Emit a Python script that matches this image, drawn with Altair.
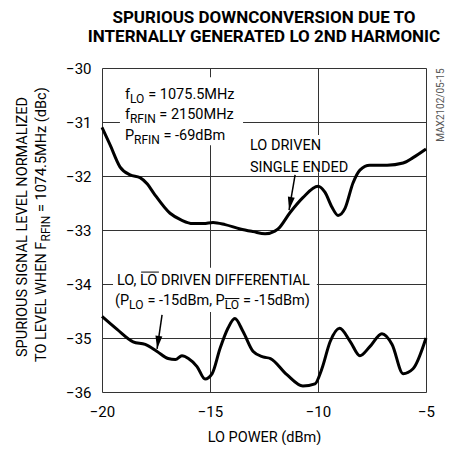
import altair as alt
import pandas as pd

FONT = "Roboto"

# ---------------- data ----------------
x_single = [-20, -19.63, -19.17, -18.7, -18.24, -17.9, -17.6, -16.85, -16.3, -15.8, -15.3,
            -14.86, -14.3, -13.6, -13.0, -12.45, -12.0, -11.85, -11.3, -10.7, -10.0, -9.68,
            -9.35, -9.07, -8.75, -8.38, -8.06, -7.6, -6.8, -6.06, -5.6, -5.0]
y_single = [-31.1, -31.42, -31.83, -31.98, -32.03, -32.15, -32.32, -32.69, -32.82, -32.88, -32.88,
            -32.86, -32.9, -32.98, -33.03, -33.07, -33.02, -32.98, -32.68, -32.4, -32.19, -32.3,
            -32.58, -32.73, -32.6, -32.13, -31.89, -31.8, -31.8, -31.76, -31.66, -31.5]

x_diff = [-20, -19.3, -18.56, -18.0, -17.45, -16.94, -16.6, -16.3, -16.0, -15.6, -15.23,
          -14.9, -14.54, -14.17, -13.85, -13.47, -13.0, -12.55, -12.2, -11.44, -10.7, -10.14,
          -9.82, -9.44, -9.0, -8.5, -8.06, -7.6, -7.04, -6.57, -6.06, -5.6, -5.0]
y_diff = [-34.6, -34.84, -35.07, -35.12, -35.25, -35.38, -35.4, -35.33, -35.38, -35.53, -35.76,
          -35.66, -35.2, -34.82, -34.64, -34.88, -35.25, -35.35, -35.38, -35.68, -35.89, -35.85,
          -35.57, -35.07, -34.82, -35.07, -35.33, -35.16, -34.92, -35.12, -35.66, -35.57, -35.0]

x_ticks = [-20, -15, -10, -5]
y_ticks = [-36, -35, -34, -33, -32, -31, -30]

title_lines = ["SPURIOUS DOWNCONVERSION DUE TO", "INTERNALLY GENERATED LO 2ND HARMONIC"]
x_title = "LO POWER (dBm)"

# ---------------- layout helpers ----------------
W, H = 324, 324
PXX = W / 15.0
PXY = H / 6.0

# approximate Roboto advance widths (per 1000 em)
AW = {' ': 248, '(': 342, ')': 348, ',': 196, '-': 276, '.': 263, '/': 412, '=': 549,
      'A': 652, 'B': 622, 'C': 651, 'D': 656, 'E': 568, 'F': 553, 'G': 681, 'H': 713, 'I': 272,
      'K': 627, 'L': 538, 'M': 873, 'N': 713, 'O': 688, 'P': 631, 'R': 616, 'S': 593, 'T': 597,
      'U': 648, 'V': 636, 'W': 887, 'Z': 599, 'a': 544, 'b': 561, 'c': 523, 'd': 564, 'e': 530,
      'f': 347, 'h': 551, 'i': 243, 'm': 876, 'n': 552, 'o': 570, 'r': 338, 's': 516, 't': 327,
      'u': 551, 'z': 495, 'l': 243, 'g': 561}


def tw(s, size):
    return sum(AW.get(c, 561) for c in s) / 1000.0 * size


xs = alt.Scale(domain=[-20, -5], nice=False, zero=False)
ys = alt.Scale(domain=[-36, -30], nice=False, zero=False)
xaxis = alt.Axis(values=x_ticks, title=x_title, grid=True, ticks=False, domain=False,
                 labelFont=FONT, labelFontSize=15, labelPadding=12, labelColor="black",
                 titleFont=FONT, titleFontSize=14.5, titleFontWeight="normal", titleColor="black",
                 titlePadding=11, gridColor="#333", gridWidth=1, labelFlush=False)
yaxis = alt.Axis(values=y_ticks, title="", grid=True, ticks=False, domain=False,
                 labelFont=FONT, labelFontSize=15, labelPadding=11, labelColor="black",
                 gridColor="#333", gridWidth=1, labelFlush=False)


def X(f):
    return alt.X(f, type="quantitative", scale=xs, axis=xaxis)


def Y(f):
    return alt.Y(f, type="quantitative", scale=ys, axis=yaxis)


def split_lead(text, sz):
    # SVG collapses leading/trailing spaces: move them into the offset instead
    lead = len(text) - len(text.lstrip(" "))
    return text.strip(" "), tw(" " * lead, sz)


def rich_data(x, y, parts):
    layers = []
    off = 0.0
    for text, sz, dy in parts:
        core, lead = split_lead(text, sz)
        d = pd.DataFrame({"x": [x], "y": [y], "t": [core]})
        layers.append(alt.Chart(d).mark_text(align="left", baseline="alphabetic", font=FONT,
                                             fontSize=sz, dx=off + lead, dy=dy, color="black")
                      .encode(x=X("x"), y=Y("y"), text="t:N"))
        off += tw(text, sz)
    return layers


def rich_px(px, py, parts, angle=270, color="black"):
    layers = []
    off = 0.0
    for text, sz, dy in parts:
        core, lead = split_lead(text, sz)
        d = pd.DataFrame({"t": [core]})
        layers.append(alt.Chart(d).mark_text(align="left", baseline="alphabetic", font=FONT,
                                             fontSize=sz, dx=off + lead, dy=dy, angle=angle, color=color)
                      .encode(x=alt.value(px), y=alt.value(py), text="t:N"))
        off += tw(text, sz)
    return layers


S, SS, SD = 14.5, 12, 4

# white masks that interrupt grid lines behind text
mask = pd.DataFrame({
    "x": [-19.17, -13.24, -19.49],
    "x2": [-13.47, -8.52, -10.05],
    "y": [-30.17, -31.24, -33.70],
    "y2": [-31.43, -31.93, -34.52],
})
masks = alt.Chart(mask).mark_rect(color="white").encode(x=X("x"), x2="x2", y=Y("y"), y2="y2")

df_s = pd.DataFrame({"x": x_single, "y": y_single})
df_d = pd.DataFrame({"x": x_diff, "y": y_diff})
line_s = alt.Chart(df_s).mark_line(color="black", strokeWidth=3, interpolate="monotone").encode(x=X("x"), y=Y("y"))
line_d = alt.Chart(df_d).mark_line(color="black", strokeWidth=3, interpolate="monotone").encode(x=X("x"), y=Y("y"))

# arrows
arrows = pd.DataFrame({"x": [-11.06, -11.34, -17.22, -17.45], "y": [-31.98, -32.63, -34.57, -35.20],
                       "g": ["a", "a", "b", "b"]})
shafts = alt.Chart(arrows).mark_line(color="black", strokeWidth=1.5).encode(x=X("x"), y=Y("y"), detail="g:N")
HEAD = "M0,0L-0.35,-1.3L0.35,-1.3Z"
head_a = alt.Chart(pd.DataFrame({"x": [-11.34], "y": [-32.63]})).mark_point(
    shape=HEAD, filled=True, color="black", opacity=1, size=400, angle=10).encode(x=X("x"), y=Y("y"))
head_b = alt.Chart(pd.DataFrame({"x": [-17.45], "y": [-35.20]})).mark_point(
    shape=HEAD, filled=True, color="black", opacity=1, size=400, angle=8).encode(x=X("x"), y=Y("y"))

# text blocks
bx, by0 = -18.94, -30.574
txt = []
txt += rich_data(bx, by0, [("f", S, 0), ("LO", SS, SD), (" = 1075.5MHz", S, 0)])
txt += rich_data(bx, by0 - 20.5 / PXY, [("f", S, 0), ("RFIN", SS, SD), (" = 2150MHz", S, 0)])
txt += rich_data(bx, by0 - 41 / PXY, [("P", S, 0), ("RFIN", SS, SD), (" = -69dBm", S, 0)])
txt += rich_data(-13.15, -31.52, [("LO DRIVEN", S, 0)])
txt += rich_data(-13.15, -31.93, [("SINGLE ENDED", S, 0)])
l1x, l1y = -19.31, -34.02
l2x, l2y = -19.40, -34.39
txt += rich_data(l1x, l1y, [("LO, LO DRIVEN DIFFERENTIAL", S, 0)])
txt += rich_data(l2x, l2y, [("(P", S, 0), ("LO", SS, SD), (" = -15dBm, P", S, 0), ("LO", SS, SD), (" = -15dBm)", S, 0)])

# overlines on the inverted LO
o1 = tw("LO, ", S)
o2 = tw("(P", S) + tw("LO", SS) + tw(" = -15dBm, P", S)
over = pd.DataFrame({
    "x": [l1x + o1 / PXX, l2x + o2 / PXX],
    "x2": [l1x + (o1 + tw("LO", S)) / PXX, l2x + (o2 + tw("LO", SS)) / PXX],
    "y": [l1y + 13 / PXY, l2y + 6.5 / PXY],
})
overlines = alt.Chart(over).mark_rule(color="black", strokeWidth=1).encode(x=X("x"), x2="x2", y=Y("y"))

# rotated y-axis title
ytitle = []
ytitle += rich_px(-75, 289, [("SPURIOUS SIGNAL LEVEL NORMALIZED", S, 0)])
ytitle += rich_px(-56, 294, [("TO LEVEL WHEN F", S, 0), ("RFIN", SS, SD), (" = 1074.5MHz (dBc)", S, 0)])

code = alt.Chart(pd.DataFrame({"t": ["MAX2102/05-15"]})).mark_text(
    font=FONT, fontSize=10, angle=270, align="center", baseline="middle", color="#555").encode(
    x=alt.value(339), y=alt.value(37), text="t:N")

chart = alt.layer(masks, line_s, line_d, shafts, head_a, head_b, overlines, *txt, *ytitle, code).properties(
    width=W, height=H,
    title=alt.TitleParams(text=title_lines, font=FONT, fontSize=17, fontWeight="bold", anchor="middle",
                          color="black", lineHeight=19, offset=15),
    autosize=alt.AutoSizeParams(type="none"),
    padding={"left": 94, "top": 60, "right": 19, "bottom": 53},
).configure_view(stroke="black", strokeWidth=3).configure(background="white")

chart.save("out.html", embed_options={"renderer": "svg", "actions": False})
